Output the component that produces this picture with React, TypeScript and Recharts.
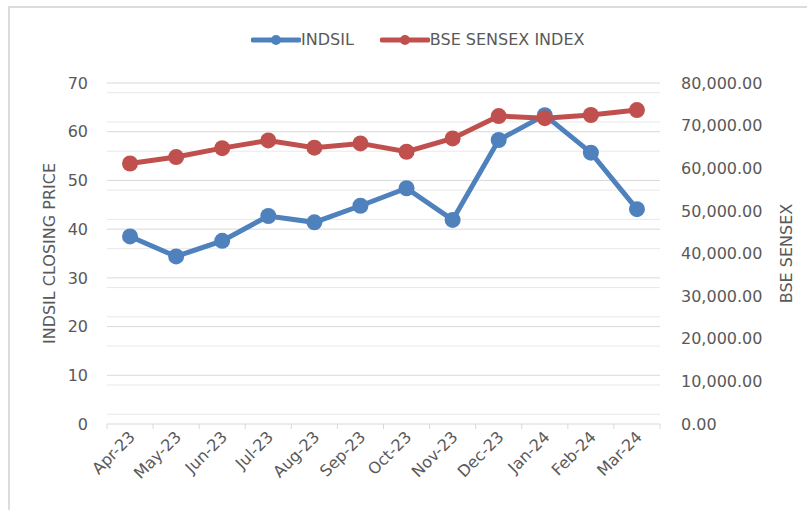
import {
  LineChart,
  Line,
  XAxis,
  YAxis,
  CartesianGrid,
  Legend,
} from "recharts";

const months = [
  "Apr-23", "May-23", "Jun-23", "Jul-23", "Aug-23", "Sep-23",
  "Oct-23", "Nov-23", "Dec-23", "Jan-24", "Feb-24", "Mar-24",
];
const indsilClose = [38.5, 34.4, 37.6, 42.7, 41.4, 44.8, 48.4, 41.9, 58.3, 63.4, 55.7, 44.1];
const sensexClose = [61112, 62622, 64719, 66528, 64831, 65828, 63875, 66988, 72240, 71752, 72500, 73651];

const priceTicks = [0, 10, 20, 30, 40, 50, 60, 70];
const sensexTicks = [0, 10000, 20000, 30000, 40000, 50000, 60000, 70000, 80000];
const minorGrid = [
  2, 4, 6, 8, 12, 14, 16, 18, 22, 24, 26, 28, 32, 34, 36, 38,
  42, 44, 46, 48, 52, 54, 56, 58, 62, 64, 66, 68,
];

const data = months.map((m, i) => ({
  month: m,
  indsil: indsilClose[i],
  sensex: sensexClose[i],
}));

const W = 807;
const H = 510;
const LEFT_W = 107;
const RIGHT_W = 147;
const PLOT_W = W - LEFT_W - RIGHT_W;
const BAND = PLOT_W / months.length;
const FONT = "'DejaVu Sans', sans-serif";
const TEXT = "#595959";
const BLUE = "#4F81BD";
const RED = "#C0504D";

const legendItems = [
  { name: "INDSIL", color: BLUE },
  { name: "BSE SENSEX INDEX", color: RED },
];

const MonthTick = (props: any) => {
  const { x, y, payload, index } = props;
  const last = index === months.length - 1;
  return (
    <g>
      <line x1={x - BAND / 2} x2={x - BAND / 2} y1={y} y2={y + 5} stroke="#d9d9d9" />
      {last && <line x1={x + BAND / 2} x2={x + BAND / 2} y1={y} y2={y + 5} stroke="#d9d9d9" />}
      <text
        transform={`translate(${x + 2},${y + 10}) rotate(-45)`}
        textAnchor="end"
        dy="0.35em"
        fill={TEXT}
        fontSize={16}
        fontFamily={FONT}
      >
        {payload.value}
      </text>
    </g>
  );
};

const LegendBox = () => (
  <div style={{ display: "flex", alignItems: "center", fontFamily: FONT, fontSize: 16, color: TEXT }}>
    {legendItems.map((p, i) => (
      <div key={p.name} style={{ display: "flex", alignItems: "center", marginLeft: i ? 26 : 0 }}>
        <svg width={50} height={16}>
          <line x1={2} x2={48} y1={8} y2={8} stroke={p.color} strokeWidth={5} strokeLinecap="round" />
          <circle cx={25} cy={8} r={5} fill={p.color} />
        </svg>
        <span>{p.name}</span>
      </div>
    ))}
  </div>
);

export default function App() {
  return (
    <div style={{ position: "absolute", left: 0, top: 0, width: W, height: H, background: "#fff" }}>
      <div
        style={{
          position: "absolute",
          left: 8,
          top: 6,
          width: W - 8,
          height: H - 6,
          borderLeft: "2px solid #dcdcdc",
          borderTop: "2px solid #dcdcdc",
          boxSizing: "border-box",
        }}
      />
      <div style={{ position: "absolute", left: 0, top: 0 }}>
        <LineChart width={W} height={H} data={data} margin={{ top: 83, right: 0, bottom: 0, left: 0 }}>
          <CartesianGrid yAxisId="left" vertical={false} horizontalValues={minorGrid} stroke="#e8e8e8" />
          <CartesianGrid yAxisId="left" vertical={false} horizontalValues={priceTicks.slice(1)} stroke="#d9d9d9" />
          <XAxis
            dataKey="month"
            height={86}
            interval={0}
            padding={{ left: BAND / 2, right: BAND / 2 }}
            tickLine={false}
            tickSize={0}
            tickMargin={0}
            axisLine={{ stroke: "#d9d9d9" }}
            tick={<MonthTick />}
          />
          <YAxis
            yAxisId="left"
            width={LEFT_W}
            domain={[0, 70]}
            ticks={priceTicks}
            axisLine={false}
            tickLine={false}
            tickSize={0}
            tickMargin={19}
            tick={{ fill: TEXT, fontSize: 16, fontFamily: FONT }}
            label={{
              value: "INDSIL CLOSING PRICE",
              angle: -90,
              position: "insideLeft",
              offset: 49,
              style: { textAnchor: "middle", fill: TEXT, fontSize: 16, fontFamily: FONT },
            }}
          />
          <YAxis
            yAxisId="right"
            orientation="right"
            width={RIGHT_W}
            domain={[0, 80000]}
            ticks={sensexTicks}
            axisLine={false}
            tickLine={false}
            tickSize={0}
            tickMargin={21}
            tickFormatter={(v: number) => v.toLocaleString("en-US", { minimumFractionDigits: 2 })}
            tick={{ fill: TEXT, fontSize: 16, fontFamily: FONT, textAnchor: "start" }}
            label={{
              value: "BSE SENSEX",
              angle: -90,
              position: "insideRight",
              offset: 21,
              style: { textAnchor: "middle", fill: TEXT, fontSize: 16, fontFamily: FONT },
            }}
          />
          <Legend
            verticalAlign="middle"
            align="center"
            wrapperStyle={{ top: 30, left: 251, width: "auto" }}
            content={<LegendBox />}
          />
          <Line
            yAxisId="left"
            dataKey="indsil"
            name="INDSIL"
            stroke={BLUE}
            strokeWidth={5}
            dot={{ r: 8, fill: BLUE, stroke: BLUE, strokeWidth: 0 }}
            activeDot={false}
            isAnimationActive={false}
          />
          <Line
            yAxisId="right"
            dataKey="sensex"
            name="BSE SENSEX INDEX"
            stroke={RED}
            strokeWidth={5}
            dot={{ r: 8, fill: RED, stroke: RED, strokeWidth: 0 }}
            activeDot={false}
            isAnimationActive={false}
          />
        </LineChart>
      </div>
    </div>
  );
}
